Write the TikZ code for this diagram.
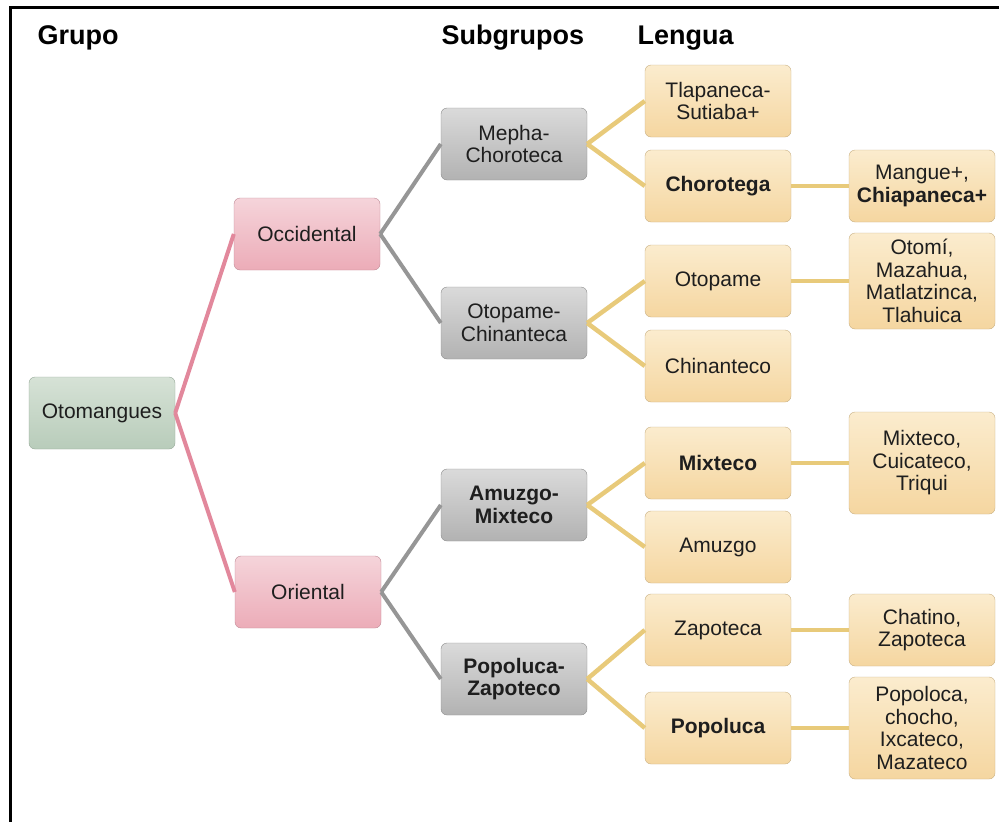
\documentclass[tikz,border=0pt]{standalone}
\usepackage{fontspec}
\setmainfont{Liberation Sans}
\usetikzlibrary{positioning}
\definecolor{grnTop}{RGB}{214,226,214}
\definecolor{grnBot}{RGB}{184,204,186}
\definecolor{grnDraw}{RGB}{150,168,152}
\definecolor{pnkTop}{RGB}{245,212,218}
\definecolor{pnkBot}{RGB}{236,172,184}
\definecolor{pnkDraw}{RGB}{190,138,150}
\definecolor{pnkLine}{RGB}{226,136,156}
\definecolor{gryTop}{RGB}{218,218,218}
\definecolor{gryBot}{RGB}{178,178,178}
\definecolor{gryDraw}{RGB}{140,140,140}
\definecolor{gryLine}{RGB}{150,150,150}
\definecolor{tanTop}{RGB}{251,236,206}
\definecolor{tanBot}{RGB}{245,214,160}
\definecolor{tanDraw}{RGB}{200,176,132}
\definecolor{tanLine}{RGB}{232,202,122}
\definecolor{txt}{RGB}{30,30,30}
\tikzset{
  box/.style={rectangle,rounded corners=6pt,minimum width=146pt,minimum height=72pt,
    align=center,inner sep=2pt,text=txt,font=\fontsize{21}{22.5}\selectfont},
  rootbox/.style={box,draw=grnDraw,top color=grnTop,bottom color=grnBot},
  grpbox/.style={box,draw=pnkDraw,top color=pnkTop,bottom color=pnkBot},
  subbox/.style={box,draw=gryDraw,top color=gryTop,bottom color=gryBot},
  lengbox/.style={box,draw=tanDraw,top color=tanTop,bottom color=tanBot},
  header/.style={anchor=west,font=\fontsize{27}{30}\selectfont\bfseries},
  pinkln/.style={draw=pnkLine,line width=4pt},
  grayln/.style={draw=gryLine,line width=4pt},
  tanln/.style={draw=tanLine,line width=4.5pt}
}

\begin{document}
\begin{tikzpicture}[x=1pt,y=-1pt]
            \useasboundingbox (0,0) rectangle (999,822);
            \draw[line width=3pt] (999,7) -- (10,7) -- (10,822);
            \node (hgrupo) at (34,38) [header] {Grupo};
            \node (hsub) at (438,38) [header] {Subgrupos};
            \node (hleng) at (634,38) [header] {Lengua};
            \node (oto) at (102,413) [rootbox] {Otomangues};
            \node (occ) at (307,234) [grpbox] {Occidental};
            \node (ori) at (308,592) [grpbox] {Oriental};
            \node (mepha) at (514,144) [subbox] {Mepha-\\Choroteca};
            \node (otopch) at (514,323) [subbox] {Otopame-\\Chinanteca};
            \node (amuz) at (514,505) [subbox,font=\fontsize{21}{22.5}\selectfont\bfseries] {Amuzgo-\\Mixteco};
            \node (popz) at (514,679) [subbox,font=\fontsize{21}{22.5}\selectfont\bfseries] {Popoluca-\\Zapoteco};
            \node (tlap) at (718,101) [lengbox] {Tlapaneca-\\Sutiaba+};
            \node (choro) at (718,186) [lengbox,font=\fontsize{21}{22.5}\selectfont\bfseries] {Chorotega};
            \node (otop) at (718,281) [lengbox] {Otopame};
            \node (chin) at (718,366) [lengbox] {Chinanteco};
            \node (mixt) at (718,463) [lengbox,font=\fontsize{21}{22.5}\selectfont\bfseries] {Mixteco};
            \node (amu) at (718,547) [lengbox] {Amuzgo};
            \node (zapo) at (718,630) [lengbox] {Zapoteca};
            \node (popo) at (718,728) [lengbox,font=\fontsize{21}{22.5}\selectfont\bfseries] {Popoluca};
            \node (mang) at (922,186) [lengbox] {Mangue+,\\\textbf{Chiapaneca+}};
            \node (otomi) at (922,281) [lengbox,minimum height=96pt] {Otomí,\\Mazahua,\\Matlatzinca,\\Tlahuica};
            \node (mixcui) at (922,463) [lengbox,minimum height=102pt] {Mixteco,\\Cuicateco,\\Triqui};
            \node (chat) at (922,630) [lengbox] {Chatino,\\Zapoteca};
            \node (popoc) at (922,728) [lengbox,minimum height=102pt] {Popoloca,\\chocho,\\Ixcateco,\\Mazateco};
            \foreach \a/\b in {oto/occ,oto/ori} {
                \draw[pinkln] (\a.east) -- (\b.west);
            }
            \foreach \a/\b in {occ/mepha,occ/otopch,ori/amuz,ori/popz} {
                \draw[grayln] (\a.east) -- (\b.west);
            }
            \foreach \a/\b in {mepha/tlap,mepha/choro,otopch/otop,otopch/chin,amuz/mixt,amuz/amu,popz/zapo,popz/popo,choro/mang,otop/otomi,mixt/mixcui,zapo/chat,popo/popoc} {
                \draw[tanln] (\a.east) -- (\b.west);
            }
\end{tikzpicture}
\end{document}
